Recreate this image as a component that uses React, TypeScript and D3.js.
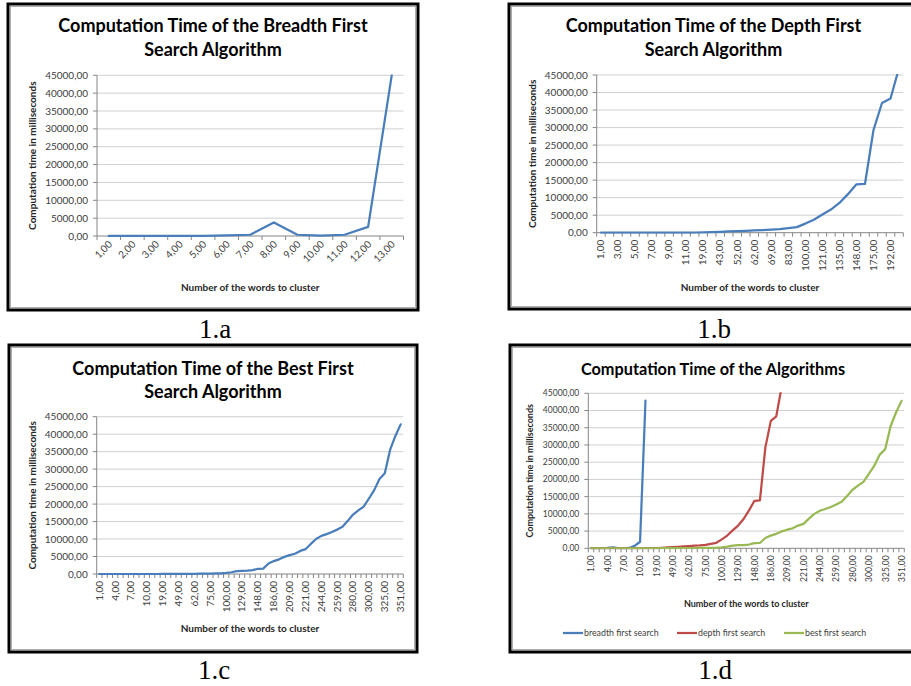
import React from "react";
import * as d3 from "d3";

// ---------- DATA ----------
const categoriesA = [1, 2, 3, 4, 5, 6, 7, 8, 9, 10, 11, 12, 13];
const breadthA = [5, 10, 15, 25, 50, 150, 350, 3800, 350, 80, 350, 2550, 45000];

const categories = [
  1, 2, 3, 4, 5, 6, 7, 8, 9, 10, 11, 15, 19, 31, 43, 49, 52, 57, 62, 66, 69, 75, 83, 91, 100, 110,
  121, 129, 135, 141, 148, 161, 175, 186, 192, 200, 209, 213, 217, 221, 228, 236, 244, 249, 254,
  259, 266, 273, 280, 287, 294, 300, 308, 316, 325, 334, 342, 351,
];
const breadth = [0, 0, 50, 100, 300, 50, 0, 100, 700, 1900, 42900];
const depth = [
  0, 0, 0, 0, 0, 0, 0, 0, 5, 10, 20, 40, 80, 150, 250, 350, 450, 550, 650, 750, 850, 1000, 1300,
  1600, 2600, 3700, 5200, 6600, 8500, 11000, 13800, 13900, 29300, 37000, 38300, 47000,
];
const best = [
  0, 0, 0, 0, 0, 0, 0, 0, 0, 0, 0, 0, 10, 20, 30, 40, 50, 60, 70, 80, 90, 110, 150, 200, 300, 500,
  800, 900, 950, 1100, 1500, 1550, 3000, 3700, 4200, 4900, 5400, 5800, 6600, 7100, 8600, 10000,
  10900, 11400, 12000, 12700, 13500, 15200, 17000, 18200, 19300, 21600, 24000, 27200, 28800, 35500,
  39500, 42800,
];
const yTicks = [0, 5000, 10000, 15000, 20000, 25000, 30000, 35000, 40000, 45000];
const seriesNames = ["breadth first search", "depth first search", "best first search"];
const colors = ["#4a7ebb", "#be4b48", "#98b954"];

const FONT = "Lato, 'Liberation Sans', sans-serif";
const fmt = (v: number) => v.toFixed(2).replace(".", ",");

type Series = { values: number[]; color: string };
type PanelProps = {
  id: string;
  border: [number, number, number, number];
  plot: [number, number, number, number]; // x0,x1,yTop,yBottom
  title: string[];
  titleX: number;
  titleY: number[];
  titleSize: number;
  tickSize: number;
  axisTitleSize: number;
  cats: number[];
  labelStep: number;
  rot: number;
  series: Series[];
  xTitleY: number;
  yTitleX: number;
  caption: string;
  captionX: number;
  captionY: number;
  legendY?: number;
};

function Panel(p: PanelProps) {
  const [x0, x1, yT, yB] = p.plot;
  const x = d3.scaleBand<number>().domain(d3.range(p.cats.length)).range([x0, x1]).padding(0);
  const y = d3.scaleLinear().domain([0, 45000]).range([yB, yT]);
  const bw = x.bandwidth();
  const line = d3
    .line<number>()
    .x((_, i) => (x(i) as number) + bw / 2)
    .y((d) => y(d));
  const clipId = "clip-" + p.id;
  const [bx, by, bw2, bh] = p.border;
  return (
    <g>
      <rect x={bx} y={by} width={bw2} height={bh} fill="#fff" stroke="#000" strokeWidth={3} />
      <rect x={bx + 2.5} y={by + 2.5} width={bw2 - 5} height={bh - 5} fill="none" stroke="#9a9a9a" strokeWidth={0.8} />
      {p.title.map((t, i) => (
        <text key={i} x={p.titleX} y={p.titleY[i]} textAnchor="middle" fontFamily={FONT} fontWeight={700} fontSize={p.titleSize} fill="#000">
          {t}
        </text>
      ))}
      <defs>
        <clipPath id={clipId}>
          <rect x={x0} y={yT - 1} width={x1 - x0} height={yB - yT + 2} />
        </clipPath>
      </defs>
      {yTicks.map((t) => (
        <g key={t}>
          {t > 0 && <line x1={x0} x2={x1} y1={y(t)} y2={y(t)} stroke="#d0d0d0" strokeWidth={1} />}
          <line x1={x0 - 4} x2={x0} y1={y(t)} y2={y(t)} stroke="#868686" strokeWidth={1} />
          <text x={x0 - 9} y={y(t)} dy="0.35em" textAnchor="end" fontFamily={FONT} fontSize={p.tickSize} fill="#404040">
            {fmt(t)}
          </text>
        </g>
      ))}
      <line x1={x0} x2={x0} y1={yT} y2={yB} stroke="#868686" strokeWidth={1} />
      <line x1={x0} x2={x1} y1={yB} y2={yB} stroke="#868686" strokeWidth={1} />
      {d3.range(p.cats.length + 1).map((i) => {
        const xx = i < p.cats.length ? (x(i) as number) : x1;
        return <line key={i} x1={xx} x2={xx} y1={yB} y2={yB + 4} stroke="#868686" strokeWidth={1} />;
      })}
      {p.cats.map((c, i) => {
        if (i % p.labelStep !== 0) return null;
        const cx = (x(i) as number) + bw / 2;
        if (p.rot === -45) {
          return (
            <text key={i} transform={`translate(${cx + 4},${yB + 9}) rotate(-45)`} textAnchor="end" fontFamily={FONT} fontSize={p.tickSize} fill="#404040">
              {fmt(c)}
            </text>
          );
        }
        return (
          <text key={i} transform={`translate(${cx + 3.3},${yB + 7}) rotate(-90)`} textAnchor="end" fontFamily={FONT} fontSize={p.tickSize} fill="#404040">
            {fmt(c)}
          </text>
        );
      })}
      <g clipPath={`url(#${clipId})`}>
        {p.series.map((s, i) => (
          <path key={i} d={line(s.values) || ""} fill="none" stroke={s.color} strokeWidth={2.25} strokeLinejoin="round" strokeLinecap="round" />
        ))}
      </g>
      <text x={(x0 + x1) / 2} y={p.xTitleY} textAnchor="middle" fontFamily={FONT} fontWeight={700} fontSize={p.axisTitleSize} fill="#262626">
        Number of the words to cluster
      </text>
      <text transform={`translate(${p.yTitleX},${(yT + yB) / 2}) rotate(-90)`} textAnchor="middle" fontFamily={FONT} fontWeight={700} fontSize={p.axisTitleSize} fill="#262626">
        Computation time in milliseconds
      </text>
      {p.legendY !== undefined &&
        seriesNames.map((n, i) => {
          const lx = [563, 677, 784][i];
          return (
            <g key={n}>
              <line x1={lx} x2={lx + 20} y1={p.legendY} y2={p.legendY} stroke={colors[i]} strokeWidth={2.25} />
              <text x={lx + 21} y={(p.legendY as number) + 3.3} fontFamily={FONT} fontSize={8.8} fill="#404040">
                {n}
              </text>
            </g>
          );
        })}
      <text x={p.captionX} y={p.captionY} textAnchor="middle" fontFamily="'Liberation Serif', 'Times New Roman', serif" fontSize={27} fill="#000">
        {p.caption}
      </text>
    </g>
  );
}

export default function App() {
  return (
    <svg width={911} height={686} style={{ position: "absolute", left: 0, top: 0, background: "#fff" }}>
      <rect width={911} height={686} fill="#fff" />
      <Panel
        id="a"
        border={[8, 4, 410, 306]}
        plot={[97, 403.5, 75.3, 236]}
        title={["Computation Time of the Breadth First", "Search Algorithm"]}
        titleX={213}
        titleY={[32, 56]}
        titleSize={18}
        tickSize={10}
        axisTitleSize={10}
        cats={categoriesA}
        labelStep={1}
        rot={-45}
        series={[{ values: breadthA, color: colors[0] }]}
        xTitleY={291}
        yTitleX={35.5}
        caption="1.a"
        captionX={215}
        captionY={338}
      />
      <Panel
        id="b"
        border={[509, 4, 410, 305]}
        plot={[596.7, 903.3, 75, 232.7]}
        title={["Computation Time of the Depth First", "Search Algorithm"]}
        titleX={713.5}
        titleY={[32, 56]}
        titleSize={18}
        tickSize={10}
        axisTitleSize={10}
        cats={categories.slice(0, depth.length)}
        labelStep={2}
        rot={-90}
        series={[{ values: depth, color: colors[0] }]}
        xTitleY={291}
        yTitleX={535.5}
        caption="1.b"
        captionX={714}
        captionY={338}
      />
      <Panel
        id="c"
        border={[9, 345, 408, 307]}
        plot={[96.7, 403.3, 416.7, 574]}
        title={["Computation Time of the Best First", "Search Algorithm"]}
        titleX={213}
        titleY={[375, 398]}
        titleSize={18}
        tickSize={10}
        axisTitleSize={10}
        cats={categories}
        labelStep={3}
        rot={-90}
        series={[{ values: best, color: colors[0] }]}
        xTitleY={632}
        yTitleX={35.5}
        caption="1.c"
        captionX={214}
        captionY={679}
      />
      <Panel
        id="d"
        border={[510, 345, 410, 307]}
        plot={[588.3, 904.3, 393.3, 548.3]}
        title={["Computation Time of the Algorithms"]}
        titleX={713}
        titleY={[375]}
        titleSize={16.3}
        tickSize={8.5}
        axisTitleSize={9}
        cats={categories}
        labelStep={3}
        rot={-90}
        series={[
          { values: breadth, color: colors[0] },
          { values: depth, color: colors[1] },
          { values: best, color: colors[2] },
        ]}
        xTitleY={607}
        yTitleX={533}
        caption="1.d"
        captionX={715}
        captionY={679}
        legendY={633}
      />
    </svg>
  );
}
